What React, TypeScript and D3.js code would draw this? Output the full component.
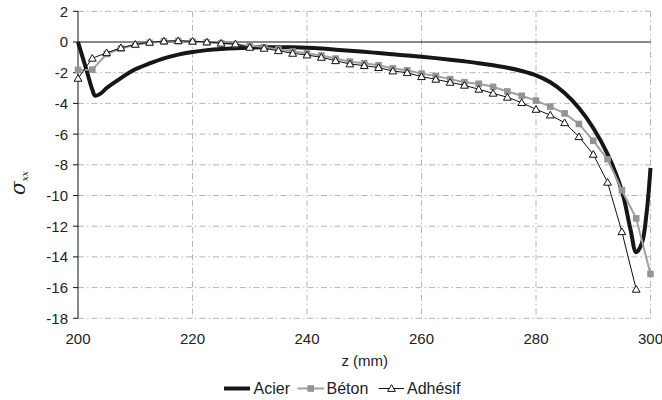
import React from 'react';
import * as d3 from 'd3';

const xTicks = [200, 220, 240, 260, 280, 300];
const yTicks = [2, 0, -2, -4, -6, -8, -10, -12, -14, -16, -18];

const zSampled = [
  200, 202.5, 205, 207.5, 210, 212.5, 215, 217.5, 220, 222.5,
  225, 227.5, 230, 232.5, 235, 237.5, 240, 242.5, 245, 247.5,
  250, 252.5, 255, 257.5, 260, 262.5, 265, 267.5, 270, 272.5,
  275, 277.5, 280, 282.5, 285, 287.5, 290, 292.5, 295, 297.5, 300,
];

const betonValues = [
  -1.82, -1.8, -0.78, -0.42, -0.18, -0.05, 0.04, 0.06, 0.03, -0.02,
  -0.08, -0.14, -0.28, -0.34, -0.48, -0.62, -0.74, -0.88, -1.08, -1.28,
  -1.38, -1.52, -1.72, -1.84, -2.06, -2.22, -2.42, -2.62, -2.72, -2.92,
  -3.22, -3.5, -3.82, -4.21, -4.65, -5.34, -6.43, -7.64, -9.66, -11.49, -15.11,
];

const adhesifValues = [
  -2.37, -1.06, -0.7, -0.38, -0.15, -0.02, 0.06, 0.08, 0.05, 0.0,
  -0.08, -0.13, -0.35, -0.41, -0.57, -0.74, -0.85, -1.0, -1.22, -1.43,
  -1.54, -1.67, -1.89, -2.0, -2.26, -2.43, -2.63, -2.82, -3.08, -3.34,
  -3.6, -3.95, -4.39, -4.76, -5.26, -6.17, -7.32, -9.14, -12.36, -16.11,
];

const acierZ = [
  200, 201.5, 202.5, 203, 204, 205, 207.5, 210, 212.5, 215, 217.5, 220,
  222.5, 225, 227.5, 230, 232.5, 235, 237.5, 240, 242.5, 245, 247.5, 250,
  252.5, 255, 257.5, 260, 262.5, 265, 267.5, 270, 272.5, 275, 277.5, 280,
  282.5, 285, 287.5, 290, 292.5, 295, 296.5, 297.5, 298.5, 299.3, 300,
];
const acierValues = [
  0, -1.85, -3.1, -3.5, -3.35, -3.0, -2.35, -1.78, -1.4, -1.07, -0.82, -0.65,
  -0.53, -0.45, -0.4, -0.37, -0.35, -0.34, -0.35, -0.38, -0.43, -0.5, -0.57, -0.64,
  -0.72, -0.8, -0.88, -0.96, -1.05, -1.15, -1.26, -1.38, -1.52, -1.68, -1.89, -2.17,
  -2.62, -3.32, -4.3, -5.6, -7.3, -9.7, -12.2, -13.7, -13.1, -11.2, -8.2,
];

const seriesNames = ['Acier', 'Béton', 'Adhésif'];

const FONT = '"Liberation Sans", Arial, sans-serif';
const GRID_DASH = '6,3,1.5,3';

function Triangle({ cx, cy }: { cx: number; cy: number }) {
  const p = `M${cx},${cy - 3.8}L${cx + 3.9},${cy + 2.9}L${cx - 3.9},${cy + 2.9}Z`;
  return <path d={p} fill="#fff" stroke="#111" strokeWidth={1} />;
}

export default function App() {
  const W = 662;
  const H = 400;
  const x = d3.scaleLinear().domain([200, 300]).range([78, 650.5]);
  const y = d3.scaleLinear().domain([-18, 2]).range([318.3, 11.3]);

  const acierPts: [number, number][] = acierZ.map((z, i) => [z, acierValues[i]]);
  const betonPts: [number, number][] = betonValues.map((v, i) => [zSampled[i], v]);
  const adhPts: [number, number][] = adhesifValues.map((v, i) => [zSampled[i], v]);

  const smooth = d3
    .line<[number, number]>()
    .x((d) => x(d[0]))
    .y((d) => y(d[1]))
    .curve(d3.curveCatmullRom.alpha(0.5));
  const straight = d3
    .line<[number, number]>()
    .x((d) => x(d[0]))
    .y((d) => y(d[1]));

  const x0 = x(200);
  const x1 = x(300);
  const yTop = y(2);
  const yBot = y(-18);

  const legY = 388.5;

  return (
    <svg
      width={W}
      height={H}
      style={{ position: 'absolute', left: 0, top: 0, background: '#fff' }}
      fontFamily={FONT}
    >
      <rect x={0} y={0} width={W} height={H} fill="#fff" />
      {yTicks
        .filter((t) => t !== 0)
        .map((t) => (
          <line
            key={'hg' + t}
            x1={x0}
            x2={x1}
            y1={y(t)}
            y2={y(t)}
            stroke="#b4b4b4"
            strokeWidth={1}
            strokeDasharray={GRID_DASH}
          />
        ))}
      {xTicks
        .filter((t) => t !== 200)
        .map((t) => (
          <line
            key={'vg' + t}
            x1={x(t)}
            x2={x(t)}
            y1={yTop}
            y2={yBot}
            stroke="#b4b4b4"
            strokeWidth={1}
            strokeDasharray={GRID_DASH}
          />
        ))}
      <line x1={x0} x2={x1} y1={y(0)} y2={y(0)} stroke="#111" strokeWidth={1} />
      <line x1={x0} x2={x0} y1={yTop} y2={yBot} stroke="#111" strokeWidth={1} />
      {yTicks.map((t) => (
        <g key={'yt' + t}>
          <line x1={x0 - 5} x2={x0} y1={y(t)} y2={y(t)} stroke="#111" strokeWidth={1} />
          <text
            x={x0 - 10}
            y={y(t)}
            dy="0.36em"
            textAnchor="end"
            fontSize={15}
            fill="#222"
          >
            {t}
          </text>
        </g>
      ))}
      {xTicks.map((t) => (
        <text key={'xt' + t} x={x(t)} y={343.5} textAnchor="middle" fontSize={15} fill="#222">
          {t}
        </text>
      ))}
      <text x={(x0 + x1) / 2 + 0.5} y={366} textAnchor="middle" fontSize={15} fill="#222">
        z (mm)
      </text>
      <text
        transform="translate(25,183) rotate(-90)"
        textAnchor="middle"
        fill="#222"
        fontFamily='"DejaVu Serif", "Liberation Serif", serif'
      >
        <tspan fontSize={20} fontStyle="italic">σ</tspan>
        <tspan fontSize={9} fontStyle="italic" dy={3}>xx</tspan>
      </text>

      <path d={smooth(acierPts) || ''} fill="none" stroke="#161616" strokeWidth={4} strokeLinejoin="round" />
      <path d={straight(betonPts) || ''} fill="none" stroke="#a0a0a0" strokeWidth={2} />
      {betonPts.map((d, i) => (
        <rect
          key={'b' + i}
          x={x(d[0]) - 3.3}
          y={y(d[1]) - 3.3}
          width={6.6}
          height={6.6}
          fill="#949494"
        />
      ))}
      <path d={straight(adhPts) || ''} fill="none" stroke="#111" strokeWidth={1} />
      {adhPts.map((d, i) => (
        <Triangle key={'a' + i} cx={x(d[0])} cy={y(d[1])} />
      ))}

      <line x1={224} x2={250} y1={legY} y2={legY} stroke="#161616" strokeWidth={4} />
      <text x={253.5} y={legY} dy="0.36em" fontSize={16} fill="#222">
        {seriesNames[0]}
      </text>
      <line x1={297.5} x2={324} y1={legY} y2={legY} stroke="#a0a0a0" strokeWidth={2} />
      <rect x={310.7 - 3.3} y={legY - 3.3} width={6.6} height={6.6} fill="#949494" />
      <text x={326.5} y={legY} dy="0.36em" fontSize={16} fill="#222">
        {seriesNames[1]}
      </text>
      <line x1={378.5} x2={404} y1={legY} y2={legY} stroke="#111" strokeWidth={1} />
      <Triangle cx={391.5} cy={legY} />
      <text x={407} y={legY} dy="0.36em" fontSize={16} fill="#222">
        {seriesNames[2]}
      </text>
    </svg>
  );
}
